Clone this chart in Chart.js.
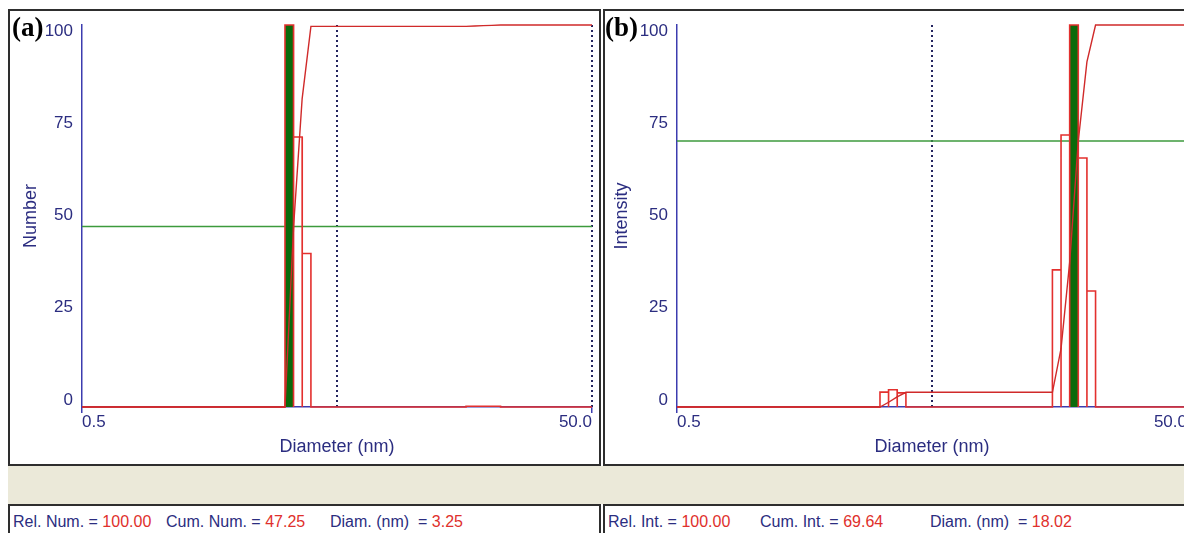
<!DOCTYPE html>
<html>
<head>
<meta charset="utf-8">
<script src="https://cdn.jsdelivr.net/npm/chart.js@4.4.1/dist/chart.umd.min.js"></script>
<style>
  html, body { margin: 0; padding: 0; background: #fff; }
  body { width: 1184px; height: 533px; overflow: hidden; position: relative;
         font-family: "Liberation Sans", Arial, sans-serif; }
  .frame { position: absolute; box-sizing: border-box; border: 2px solid #2e2e2e; background: #fff; }
  .strip { position: absolute; background: #ebe9d9; }
  canvas { position: absolute; }
  .tag { position: absolute; font-family: "Liberation Serif", "Times New Roman", serif;
         font-weight: bold; font-size: 27px; line-height: 1; color: #000; }
  .txt { position: absolute; font-size: 16px; line-height: 1; color: #2b2d80; white-space: pre; }
  .val { color: #e0302c; }
</style>
</head>
<body>
<div class="frame" style="left:8px; top:9px; width:593px; height:457px;"></div>
<div class="frame" style="left:603px; top:9px; width:600px; height:457px;"></div>
<div class="strip" style="left:8px; top:466px; width:1176px; height:38px;"></div>
<div class="frame" style="left:8px; top:504px; width:593px; height:40px;"></div>
<div class="frame" style="left:603px; top:504px; width:600px; height:40px;"></div>

<canvas id="chartA" width="589" height="453" style="left:10px; top:11px;"></canvas>
<canvas id="chartB" width="589" height="453" style="left:605px; top:11px;"></canvas>

<div class="tag" style="left:12px; top:14px;">(a)</div>
<div class="tag" style="left:605px; top:14px;">(b)</div>

<div id="infoA"></div>
<div id="infoB"></div>

<script>
// Panel (a): number-weighted size distribution (bin centre diameters in nm, relative counts)
const numDiam = [3.25, 3.51, 3.80, 16.67, 18.02, 19.48, 21.06];
const numRel  = [100, 70.7, 40.2, 0.19, 0.19, 0.18, 0.18];
const numPick = { diam: 3.25, rel: 100.00, cum: 47.25 };

// Panel (b): intensity-weighted size distribution
const intDiam = [3.25, 3.51, 3.80, 15.42, 16.67, 18.02, 19.48, 21.06];
const intRel  = [3.9, 4.5, 3.7, 35.9, 71.2, 100, 65.2, 30.35];
const intPick = { diam: 18.02, rel: 100.00, cum: 69.64 };

// Axes
const xTickValues = [0.5, 50];
const xTickLabels = ['0.5', '50.0'];
const yTickValues = [0, 25, 50, 75, 100];
const yTickLabels = ['0', '25', '50', '75', '100'];
const rangeMarks  = [5, 50];      // dotted size-range cursors (nm)
const binRatio    = 1.081;        // geometric width of one size bin

Chart.defaults.font.family = '"Liberation Sans", Arial, sans-serif';
const AXIS_BLUE = '#3c3caf';
const TEXT_NAVY = '#2b2d80';
const HIST_RED  = '#e3302e';
const CUM_RED   = '#d02a2a';

function buildPanel(canvasId, diams, rels, pick, yTitle, titlePad) {
  const half = Math.sqrt(binRatio);
  const xMin = xTickValues[0];
  const xMax = xTickValues[xTickValues.length - 1];

  // histogram outline: one open box per bin, baseline in between
  const hist = [{ x: xMin, y: 0 }];
  diams.forEach((d, i) => {
    hist.push({ x: d / half, y: 0 }, { x: d / half, y: rels[i] },
              { x: d * half, y: rels[i] }, { x: d * half, y: 0 });
  });
  hist.push({ x: xMax, y: 0 });

  // cumulative percentage, rising across each bin
  const total = rels.reduce((a, b) => a + b, 0);
  let run = 0;
  const cum = [{ x: xMin, y: 0 }];
  diams.forEach((d, i) => {
    cum.push({ x: d / half, y: run / total * 100 });
    run += rels[i];
    cum.push({ x: d * half, y: run / total * 100 });
  });
  cum.push({ x: xMax, y: 100 });

  // highlighted bin under the cursor
  const sel = [{ x: pick.diam / half, y: 0 }, { x: pick.diam / half, y: pick.rel },
               { x: pick.diam * half, y: pick.rel }, { x: pick.diam * half, y: 0 }];

  // cumulative level at the cursor
  const level = [{ x: xMin, y: pick.cum }, { x: xMax, y: pick.cum }];

  const datasets = [
    { data: cum,   borderColor: CUM_RED,  borderWidth: 1.4, order: 1 },
    { data: hist,  borderColor: HIST_RED, borderWidth: 1.6, order: 2 },
    { data: sel,   borderWidth: 0, backgroundColor: '#0b6a0b', fill: 'origin', order: 3 },
    { data: level, borderColor: '#3c9a3c', borderWidth: 1.5, order: 4 }
  ];
  rangeMarks.forEach(m => datasets.push({
    data: [{ x: m, y: 0 }, { x: m, y: 100 }],
    borderColor: '#23235e', borderWidth: 2, borderDash: [2, 3], order: 5
  }));
  datasets.forEach(ds => { ds.clip = false; ds.pointRadius = 0; ds.tension = 0; if (!ds.fill) ds.fill = false; });

  new Chart(document.getElementById(canvasId), {
    type: 'line',
    data: { datasets },
    options: {
      responsive: false,
      animation: false,
      devicePixelRatio: 1,
      layout: { padding: { top: 14, right: 7, left: 0, bottom: 0 } },
      plugins: { legend: { display: false }, tooltip: { enabled: false } },
      scales: {
        x: {
          type: 'logarithmic', min: xMin, max: xMax,
          afterBuildTicks: s => { s.ticks = xTickValues.map(v => ({ value: v })); },
          afterFit: s => { s.height = 57; s.paddingLeft = 0; s.paddingRight = 0; },
          ticks: { callback: (v, i) => xTickLabels[i], color: TEXT_NAVY, font: { size: 17 },
                   padding: -1, align: 'inner', maxRotation: 0, autoSkip: false },
          grid: { drawOnChartArea: false, drawTicks: true, tickLength: 6, color: AXIS_BLUE, lineWidth: 1.5 },
          border: { color: AXIS_BLUE, width: 1.5 },
          title: { display: true, text: 'Diameter (nm)', color: TEXT_NAVY, font: { size: 18 },
                   padding: { top: 0, bottom: 6 } }
        },
        y: {
          type: 'linear', min: 0, max: 100, position: 'left', weight: 0,
          ticks: { display: false },
          grid: { display: false },
          border: { color: AXIS_BLUE, width: 1.5 },
          afterFit: s => { s.width = 0; s.paddingTop = 0; s.paddingBottom = 0; }
        },
        yl: {
          type: 'linear', min: -1.9, max: 101.6, position: 'left', weight: 1,
          afterBuildTicks: s => { s.ticks = yTickValues.map(v => ({ value: v })); },
          afterFit: s => { s.width = 72; s.paddingTop = 0; s.paddingBottom = 0; },
          ticks: { callback: (v, i) => yTickLabels[i], color: TEXT_NAVY, font: { size: 17 }, padding: 9 },
          grid: { display: false, drawTicks: false },
          border: { display: false },
          title: { display: true, text: yTitle, color: TEXT_NAVY, font: { size: 18 },
                   padding: { top: titlePad, bottom: 0 } }
        }
      }
    }
  });
}

buildPanel('chartA', numDiam, numRel, numPick, 'Number', 10);
buildPanel('chartB', intDiam, intRel, intPick, 'Intensity', 6);

// read-out line under each panel
function readout(id, top, items) {
  const host = document.getElementById(id);
  items.forEach(([left, label, value]) => {
    const el = document.createElement('div');
    el.className = 'txt';
    el.style.left = left + 'px';
    el.style.top = top + 'px';
    el.innerHTML = label + '<span class="val">' + value + '</span>';
    host.appendChild(el);
  });
}
readout('infoA', 514, [
  [13,  'Rel. Num. = ',    numPick.rel.toFixed(2)],
  [166, 'Cum. Num. = ',    numPick.cum.toFixed(2)],
  [330, 'Diam. (nm)  = ',  numPick.diam.toFixed(2)]
]);
readout('infoB', 514, [
  [608, 'Rel. Int. = ',    intPick.rel.toFixed(2)],
  [760, 'Cum. Int. = ',    intPick.cum.toFixed(2)],
  [930, 'Diam. (nm)  = ',  intPick.diam.toFixed(2)]
]);
</script>
</body>
</html>
